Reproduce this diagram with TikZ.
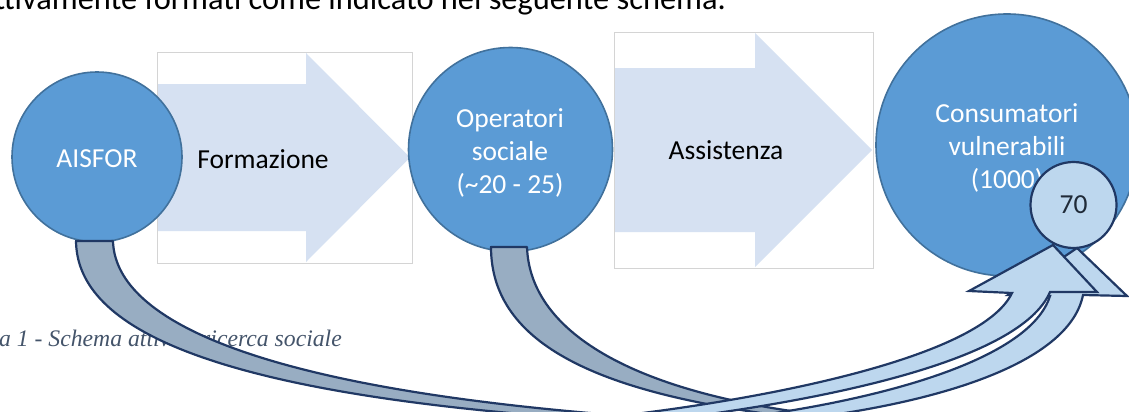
\documentclass[tikz,border=0pt]{standalone}
\usepackage{fontspec}
\setmainfont{Carlito}
\newfontfamily\capfont{Liberation Serif}
\definecolor{circfill}{HTML}{5B9BD5}
\definecolor{circedge}{HTML}{41719C}
\definecolor{navyline}{HTML}{203864}
\definecolor{tailfill}{HTML}{98ADC2}
\definecolor{lightfill}{HTML}{BDD7EE}
\definecolor{arrowfill}{HTML}{D6E1F2}
\definecolor{boxgray}{HTML}{D4D4D4}
\definecolor{captioncol}{HTML}{44546A}
\definecolor{seventytext}{HTML}{1F2A38}
\begin{document}
\begin{tikzpicture}[x=1pt,y=-1pt,
  bigcirc/.style={circle, draw=circedge, fill=circfill, line width=1.6pt, inner sep=0pt},
  smallcirc/.style={circle, draw=navyline, fill=lightfill, line width=2.2pt, inner sep=0pt},
  boxframe/.style={draw=none, fill=white, inner sep=0pt},
  boxline/.style={draw=boxgray, line width=0.9pt},
  flowarrow/.style={fill=arrowfill, draw=none},
  ribbondark/.style={fill=tailfill, draw=navyline, line width=2.2pt, line join=round},
  ribbonlight/.style={fill=lightfill, draw=navyline, line width=2.2pt, line join=miter, miter limit=6},
  circtext/.style={text=white, font=\fontsize{27.5}{33}\selectfont, align=center, inner sep=0pt},
  boxtext/.style={text=black, font=\fontsize{27.5}{33}\selectfont, inner sep=0pt, anchor=base}
]
\useasboundingbox (0,0) rectangle (1129,412);
\clip (0,0) rectangle (1129,412);

% top running text
\node[inner sep=0pt, anchor=base east, font=\fontsize{32.4}{38}\selectfont] (toptext) at (726,10) {ttivamente formati come indicato nel seguente schema.};

% caption
\node[inner sep=0pt, anchor=base east, text=captioncol, font=\capfont\itshape\fontsize{23.7}{28}\selectfont] (caption) at (342,346) {a 1 - Schema attività ricerca sociale};

% boxes with block arrows
\node[boxframe, minimum width=255pt, minimum height=211pt, anchor=north west] (formbox) at (157,52) {};
\fill[flowarrow] (157,84) -- (306,84) -- (306,53) -- (410,157.5) -- (306,262) -- (306,231) -- (157,231) -- cycle;
\draw[boxline] (formbox.north west) rectangle (formbox.south east);
\node[boxtext] (formtxt) at (263,168) {Formazione};

\node[boxframe, minimum width=259pt, minimum height=236pt, anchor=north west] (assbox) at (614,32) {};
\fill[flowarrow] (614,68) -- (755,68) -- (755,33) -- (872,150) -- (755,267) -- (755,232) -- (614,232) -- cycle;
\draw[boxline] (assbox.north west) rectangle (assbox.south east);
\node[boxtext] (asstxt) at (726,159) {Assistenza};

% circles
\node[bigcirc, minimum size=170pt] (aisfor) at (97,157) {};
\node[circtext, anchor=base] (aisfortxt) at (97,167) {AISFOR};

\node[bigcirc, minimum size=204pt] (oper) at (510.5,149.5) {};
\node[circtext] (opertxt) at (510,153) {Operatori\\sociale\\(\textasciitilde 20 - 25)};

\node[bigcirc, minimum size=262pt] (cons) at (1007,145) {};
\node[circtext] (constxt) at (1007,147.5) {Consumatori\\vulnerabili\\(1000)};

% curved arrow from Operatori
\draw[ribbondark] (491,247) .. controls (491,345) and (600,395) .. (800,418) -- (830,416) .. controls (640,395) and (530,335) .. (527,247) -- cycle;
\draw[ribbonlight] (740,418) .. controls (880,400) and (1030,360) .. (1050,296) -- (1008,295) -- (1077,248) -- (1127,296) -- (1083,295) .. controls (1070,360) and (950,400) .. (810,418) -- cycle;

% curved arrow from AISFOR
\draw[ribbondark] (76,241) .. controls (77,320) and (185,393) .. (600,420) -- (640,417) .. controls (240,388) and (115,315) .. (113,241) -- cycle;
\draw[ribbonlight] (600,418) .. controls (750,402) and (980,360) .. (1012,293) -- (969,291) -- (1053,245) -- (1097,292) -- (1050,292) .. controls (1020,362) and (820,400) .. (680,418) -- cycle;

% 70 circle
\node[smallcirc, minimum size=86pt] (seventy) at (1073.5,205) {};
\node[inner sep=0pt, anchor=base, text=seventytext, font=\fontsize{27.5}{33}\selectfont] (seventytxt) at (1073.5,213) {70};
\end{tikzpicture}
\end{document}
